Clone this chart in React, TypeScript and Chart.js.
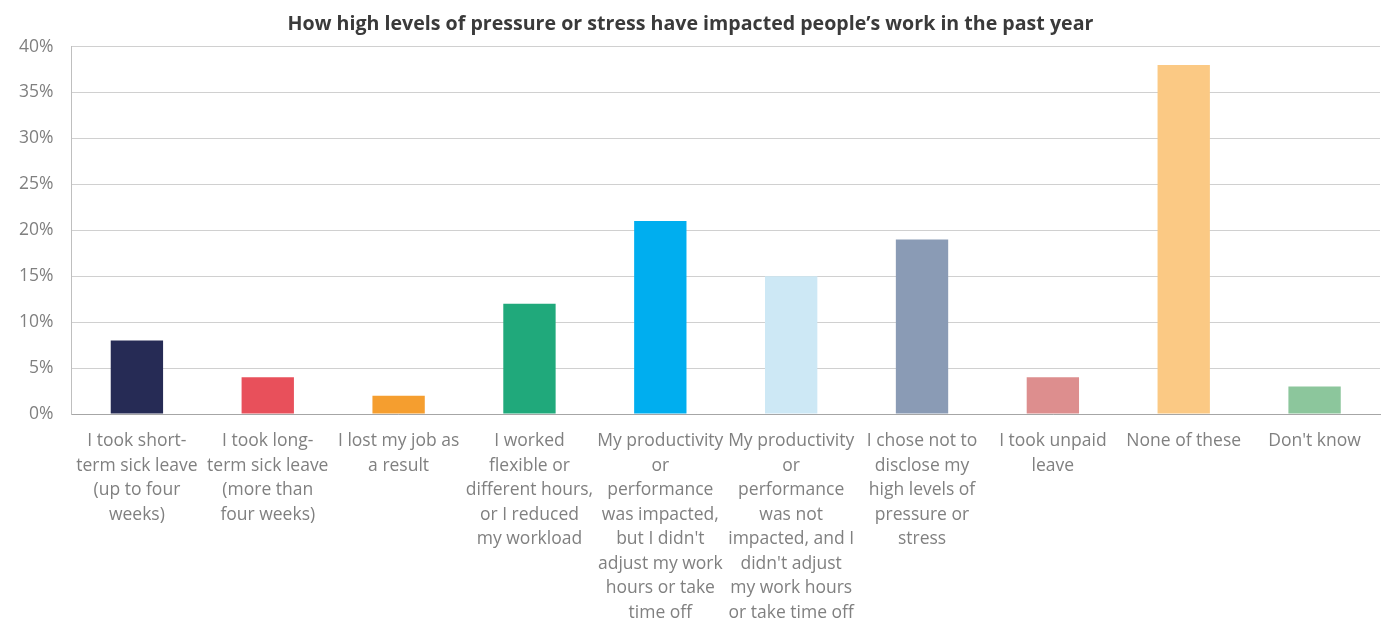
import React, { useEffect, useRef } from "react";
import { Chart, registerables } from "chart.js";

Chart.register(...registerables);

const TITLE = "How high levels of pressure or stress have impacted people’s work in the past year";

const categories: string[][] = [
  ["I took short-", "term sick leave", "(up to four", "weeks)"],
  ["I took long-", "term sick leave", "(more than", "four weeks)"],
  ["I lost my job as", "a result"],
  ["I worked", "flexible or", "different hours,", "or I reduced", "my workload"],
  ["My productivity", "or", "performance", "was impacted,", "but I didn't", "adjust my work", "hours or take", "time off"],
  ["My productivity", "or", "performance", "was not", "impacted, and I", "didn't adjust", "my work hours", "or take time off"],
  ["I chose not to", "disclose my", "high levels of", "pressure or", "stress"],
  ["I took unpaid", "leave"],
  ["None of these"],
  ["Don't know"],
];

const values: number[] = [8, 4, 2, 12, 21, 15, 19, 4, 38, 3];

const barColors: string[] = [
  "#262B55",
  "#E8505B",
  "#F59E2F",
  "#20A97B",
  "#00AEEF",
  "#CDE8F5",
  "#8A9BB5",
  "#DD8E8E",
  "#FBC984",
  "#8CC69C",
];

export default function App() {
  const ref = useRef<HTMLCanvasElement | null>(null);

  useEffect(() => {
    document.body.style.margin = "0";
    if (!ref.current) return;
    const chart = new Chart(ref.current, {
      type: "bar",
      data: {
        labels: categories,
        datasets: [
          {
            data: values,
            backgroundColor: barColors,
            borderWidth: 0,
            barPercentage: 0.5,
            categoryPercentage: 0.8,
          },
        ],
      },
      options: {
        animation: false,
        responsive: false,
        maintainAspectRatio: false,
        layout: { padding: { left: 1, right: 2, top: 7, bottom: -10 } },
        plugins: {
          legend: { display: false },
          tooltip: { enabled: false },
          title: {
            display: true,
            text: TITLE,
            color: "#3a3a3a",
            font: { family: "'Open Sans', sans-serif", size: 19.6, weight: "bold" },
            padding: { top: 6, bottom: 10 },
          },
        },
        scales: {
          x: {
            grid: { display: false, drawTicks: false },
            border: { display: true, color: "#a6a6a6", width: 1 },
            ticks: {
              color: "#808080",
              font: { family: "'Open Sans', sans-serif", size: 17.5, lineHeight: 1.4 },
              maxRotation: 0,
              minRotation: 0,
              autoSkip: false,
              padding: 15,
            },
          },
          y: {
            min: 0,
            max: 40,
            grid: { color: "#d0d0d0", drawTicks: false },
            border: { display: true, color: "#bfbfbf", width: 1 },
            ticks: {
              stepSize: 5,
              color: "#808080",
              font: { family: "'Open Sans', sans-serif", size: 17.5 },
              padding: 18,
              callback: (v: any) => `${v}%`,
            },
          },
        },
      },
    });
    return () => chart.destroy();
  }, []);

  return (
    <div style={{ width: 1382, height: 630 }}>
      <canvas ref={ref} width={1382} height={630} style={{ display: "block" }} />
    </div>
  );
}
